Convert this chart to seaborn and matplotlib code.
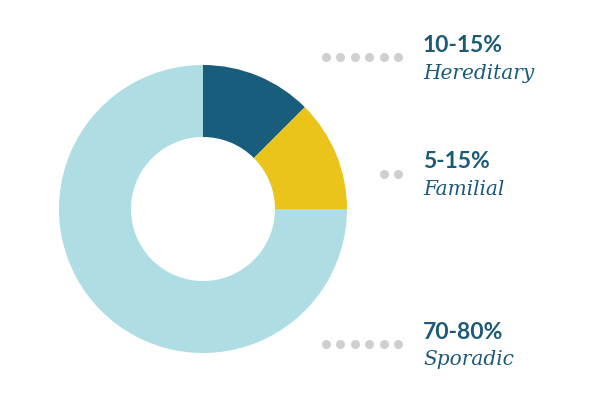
import matplotlib
matplotlib.use("Agg")
import matplotlib.pyplot as plt
import seaborn as sns

# --- data ---
labels = ["Hereditary", "Familial", "Sporadic"]
ranges = ["10-15%", "5-15%", "70-80%"]
shares = [12.5, 12.5, 75]
colors = ["#185d7b", "#eac31b", "#aedee3"]
n_dots = [6, 2, 6]

sns.set_theme(style="white")
text_color = "#1b5b79"

fig = plt.figure(figsize=(6, 4), dpi=100)

# donut, centre (203, 209) px, radius 144 px
cx, cy, r = 203, 209, 144
ax = fig.add_axes([(cx - r) / 600, (400 - cy - r) / 400, 2 * r / 600, 2 * r / 400])
ax.pie(shares, colors=colors, startangle=90, counterclock=False,
       wedgeprops=dict(width=0.5, linewidth=0))
ax.set_xlim(-1, 1)
ax.set_ylim(-1, 1)
ax.set_aspect("equal")
ax.axis("off")

# overlay in pixel coords for labels + leader dots
ov = fig.add_axes([0, 0, 1, 1], facecolor="none")
ov.axis("off")

dot_y = [57, 174, 344]
pct_base = [52, 168, 339]
name_base = [79, 195, 365]
for i, lab in enumerate(labels):
    xs = [398 - 14.4 * k for k in range(n_dots[i])]
    sns.scatterplot(x=xs, y=[dot_y[i]] * len(xs), ax=ov, color="#cfcfcf",
                    s=42, linewidth=0, legend=False)
    ov.text(423, pct_base[i], ranges[i], fontsize=16.5, fontweight="bold",
            family="Lato", color=text_color, va="baseline", ha="left")
    ov.text(423, name_base[i], lab, fontsize=14.5, style="italic",
            family="DejaVu Serif", color=text_color, va="baseline", ha="left")
ov.set_xlim(0, 600)
ov.set_ylim(400, 0)

fig.savefig("out.png", dpi=100, facecolor="white")
